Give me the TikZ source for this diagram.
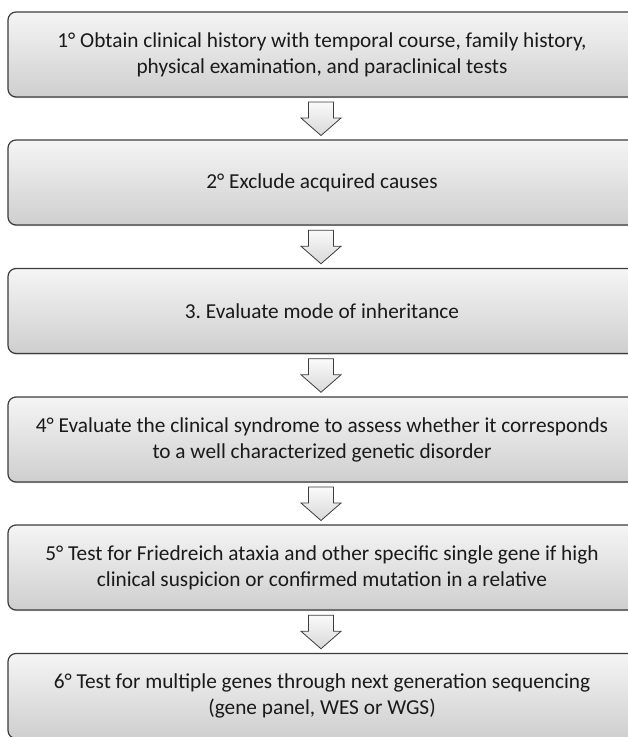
\documentclass[tikz,border=0pt]{standalone}
\usepackage{fontspec}
\setmainfont{Carlito}
\frenchspacing
\usetikzlibrary{shadows,calc}
\definecolor{edge}{HTML}{3C3C3C}
\definecolor{txt}{HTML}{1A1A1A}
\tikzset{
  stepbox/.style={draw=edge, line width=1.2pt, rounded corners=8pt,
    top color=gray!8, bottom color=gray!38,
    drop shadow={shadow xshift=0.6pt, shadow yshift=-1.2pt, opacity=0.35},
    minimum width=628pt, minimum height=85pt, inner sep=0pt,
    align=center, text=txt,
    font=\fontsize{21.3}{26}\selectfont},
  downarrow/.style={draw=edge, line width=0.8pt, line join=miter,
    top color=gray!4, bottom color=gray!30}
}
\begin{document}
\begin{tikzpicture}[x=1pt,y=-1pt]
\useasboundingbox (0,0) rectangle (628,737);
\node[stepbox] (b1) at (322,54.5) {1° Obtain clinical history with temporal course, family history,\\ physical examination, and paraclinical tests};
\node[stepbox] (b2) at (322,182.5) {2° Exclude acquired causes};
\node[stepbox] (b3) at (322,311) {3. Evaluate mode of inheritance};
\node[stepbox] (b4) at (322,439.5) {4° Evaluate the clinical syndrome to assess whether it corresponds\\ to a well characterized genetic disorder};
\node[stepbox] (b5) at (322,567.5) {5° Test for Friedreich ataxia and other specific single gene if high\\ clinical suspicion or confirmed mutation in a relative};
\node[stepbox] (b6) at (322,696) {6° Test for multiple genes through next generation sequencing\\ (gene panel, WES or WGS)};
\foreach \a/\b/\n in {b1/b2/a1,b2/b3/a2,b3/b4/a3,b4/b5/a4,b5/b6/a5}{
  \coordinate (\n) at ($(\a.south)!0.5!(\b.north)+(-1,0)$);
  \path[downarrow] ($(\n)+(-12.5,-16.5)$) -- ++(25,0) -- ++(0,16) -- ++(7.5,0)
    -- ($(\n)+(0,17)$) -- ($(\n)+(-20,-0.5)$) -- ++(7.5,0) -- cycle;
}
\end{tikzpicture}
\end{document}
